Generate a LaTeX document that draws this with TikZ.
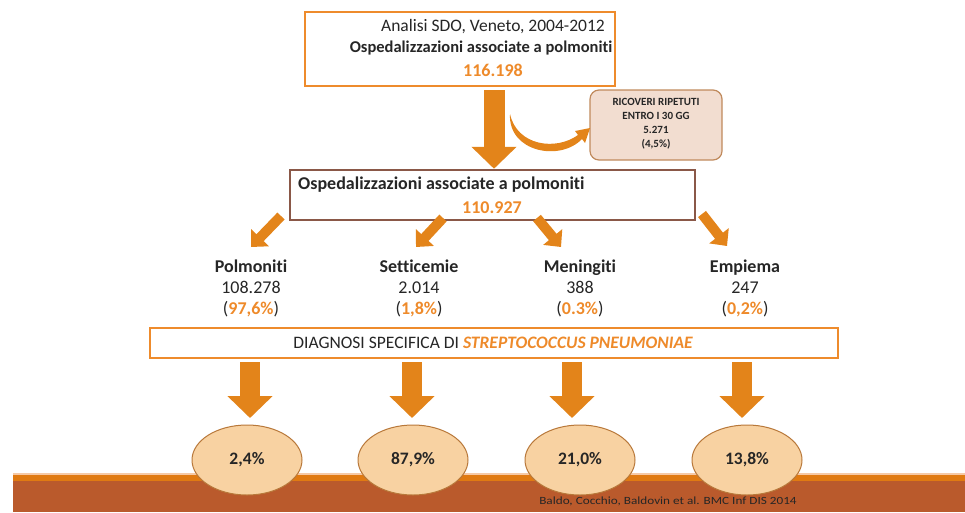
\documentclass[tikz,border=0pt]{standalone}
\usepackage{fontspec}
\setmainfont[Ligatures=NoCommon]{Carlito}
\usetikzlibrary{arrows.meta,shapes.geometric}
\definecolor{org}{HTML}{E3841A}
\definecolor{orgtxt}{HTML}{EE8A2A}
\definecolor{obrd}{HTML}{EE8B2C}
\definecolor{bbrd}{HTML}{8A5848}
\definecolor{pinkf}{HTML}{F2DDD0}
\definecolor{pinkb}{HTML}{C08A5C}
\definecolor{circf}{HTML}{F8D2A2}
\definecolor{circb}{HTML}{B8783A}
\definecolor{bandb}{HTML}{BA5A2C}
\definecolor{bando}{HTML}{E07A12}
\definecolor{bandl}{HTML}{F6C9A6}
\definecolor{txt}{HTML}{262626}
\begin{document}
\begin{tikzpicture}[x=1pt,y=-1pt,
  obox/.style={draw=obrd, line width=2.5pt, fill=white, inner sep=0pt},
  bbox/.style={draw=bbrd, line width=2.5pt, fill=white, inner sep=0pt},
  rbox/.style={draw=pinkb, line width=1.2pt, fill=pinkf, rounded corners=9pt, inner sep=0pt},
  circ/.style={ellipse, draw=circb, line width=1pt, fill=circf, minimum width=110pt, minimum height=70pt, inner sep=0pt, font=\fontsize{17.5}{19}\selectfont\bfseries, text=txt},
  tx/.style={font=\fontsize{17}{19}\selectfont, text=txt, inner sep=0pt},
  lbl/.style={font=\fontsize{18}{21}\selectfont, text=txt, align=center, inner sep=0pt},
  bigarrow/.style={draw=org, line width=21pt, -{Triangle[length=22pt,width=44pt]}},
  darrow/.style={draw=org, line width=10pt, -{Triangle[length=13pt,width=24pt]}},
  ]
\useasboundingbox (0,0) rectangle (965,512);
% bottom band
\fill[bandb] (13,480) rectangle (965,512);
\fill[bando] (13,475) rectangle (965,481);
\fill[bandl] (13,472.5) rectangle (965,475);

% top box
\node[obox, minimum width=310pt, minimum height=74pt] (top) at (460,49) {};
\node[tx, font=\fontsize{17.5}{19}\selectfont] (t1) at (493,27) {Analisi SDO, Veneto, 2004-2012};
\node[tx, font=\fontsize{16.5}{19}\selectfont\bfseries] (t2) at (481,48) {Ospedalizzazioni associate a polmoniti};
\node[tx, font=\fontsize{18}{19}\selectfont\bfseries, text=orgtxt] (t3) at (493,70) {116.198};

% repeated admissions box
\node[rbox, minimum width=132pt, minimum height=70pt] (rr) at (656,125) {};
\node[font=\fontsize{11}{14}\selectfont\bfseries, text=txt, align=center, inner sep=0pt] (rrt) at (656,124)
  {RICOVERI RIPETUTI\\ENTRO I 30 GG\\5.271\\(4,5\%)};

% second box
\node[bbox, minimum width=405pt, minimum height=50pt] (mid) at (492.5,195) {};
\node[tx, font=\fontsize{18}{19}\selectfont\bfseries, anchor=west] (m1) at (298,185) {Ospedalizzazioni associate a polmoniti};
\node[tx, font=\fontsize{18}{19}\selectfont\bfseries, text=orgtxt] (m2) at (492,208) {110.927};

% big arrow top -> mid
\coordinate (a0s) at (494,90);
\draw[bigarrow] (a0s) -- (mid.north -| a0s);

% curved (tapered) arrow
\coordinate (cs) at (510,114);
\coordinate (ce) at (590,128);
\fill[org] (cs) .. controls (508,152) and (560,162) .. (582,139) -- (585,143) -- (ce) -- (575,131) -- (578,135) .. controls (556,151) and (517,146) .. (cs) -- cycle;

% diagonal arrows
\coordinate (d1s) at (281,216); \coordinate (d1e) at (251,247);
\coordinate (d2s) at (443,218); \coordinate (d2e) at (416,247);
\coordinate (d3s) at (537,218); \coordinate (d3e) at (561,247);
\coordinate (d4s) at (702,214); \coordinate (d4e) at (727,246);
\draw[darrow] (d1s) -- (d1e);
\draw[darrow] (d2s) -- (d2e);
\draw[darrow] (d3s) -- (d3e);
\draw[darrow] (d4s) -- (d4e);

% labels
\node[lbl] (l1) at (251,288) {\textbf{Polmoniti}\\108.278\\(\textcolor{orgtxt}{\textbf{97,6\%}})};
\node[lbl] (l2) at (419,288) {\textbf{Setticemie}\\2.014\\(\textcolor{orgtxt}{\textbf{1,8\%}})};
\node[lbl] (l3) at (580,288) {\textbf{Meningiti}\\388\\(\textcolor{orgtxt}{\textbf{0.3\%}})};
\node[lbl] (l4) at (745,288) {\textbf{Empiema}\\247\\(\textcolor{orgtxt}{\textbf{0,2\%}})};

% diagnosis box
\node[obox, minimum width=688pt, minimum height=30pt] (diag) at (494,343) {};
\node[tx, font=\fontsize{17.5}{19}\selectfont] (dt) at (493,343) {DIAGNOSI SPECIFICA DI \textcolor{orgtxt}{\bfseries\itshape STREPTOCOCCUS PNEUMONIAE}};

% ellipses
\node[circ] (c1) at (247,460) {2,4\%};
\node[circ] (c2) at (413,460) {87,9\%};
\node[circ] (c3) at (580,460) {21,0\%};
\node[circ] (c4) at (747,460) {13,8\%};

% down arrows
\foreach \i/\x in {1/250,2/412,3/572,4/742}{
  \coordinate (b\i s) at (\x,362);
  \coordinate (b\i e) at (\x,418);
  \draw[bigarrow, line width=20pt] (b\i s) -- (b\i e);
}

% citation
\node[font=\fontsize{11}{13}\selectfont, text=txt, inner sep=0pt, xscale=1.2] (cit) at (668,501) {Baldo, Cocchio, Baldovin et al. BMC Inf DIS 2014};
\end{tikzpicture}
\end{document}
